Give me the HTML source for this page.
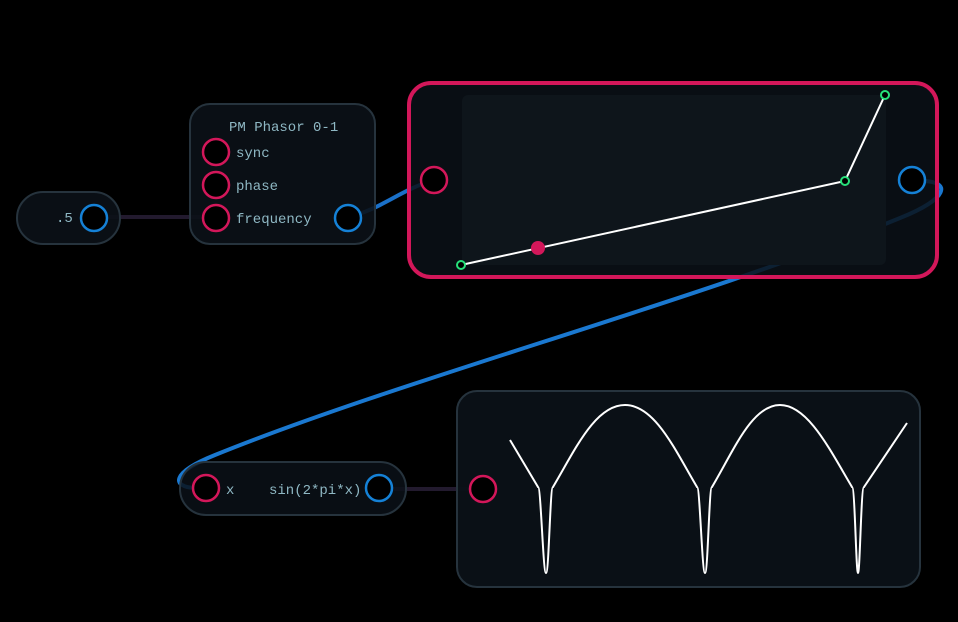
<!DOCTYPE html>
<html><head><meta charset="utf-8"><style>
html,body{margin:0;padding:0;background:#000;width:958px;height:622px;overflow:hidden}
svg{display:block}
text{font-family:"Liberation Mono","DejaVu Sans Mono",monospace;fill:#8fb8c4;font-size:14px}
</style></head><body>
<svg width="958" height="622" viewBox="0 0 958 622">
<path d="M106 217 L204 217" stroke="#221a2e" stroke-width="4" fill="none"/>
<path d="M393 489 L483 489" stroke="#221a2e" stroke-width="4" fill="none"/>
<path d="M348 217 C380 210, 400 190, 434 180" stroke="#1a70c8" stroke-width="4" fill="none"/>
<path d="M924 181 C950 182, 950 198, 900 218 C700 300, 400 380, 215 455 C170 473, 172 487, 195 488" stroke="#1a78d0" stroke-width="4" fill="none"/>
<rect x="17" y="192" width="103" height="52" rx="26" fill="rgba(11,17,23,0.9)" stroke="#26333d" stroke-width="2"/>
<text x="56" y="222">.5</text>
<circle cx="94" cy="218" r="13" fill="#000" stroke="#1581d6" stroke-width="2.5"/>
<rect x="190" y="104" width="185" height="140" rx="20" fill="rgba(11,17,23,0.9)" stroke="#26333d" stroke-width="2"/>
<text x="229" y="131">PM Phasor 0-1</text>
<circle cx="216" cy="152" r="13" fill="#000" stroke="#d3175a" stroke-width="2.5"/>
<circle cx="216" cy="185" r="13" fill="#000" stroke="#d3175a" stroke-width="2.5"/>
<circle cx="216" cy="218" r="13" fill="#000" stroke="#d3175a" stroke-width="2.5"/>
<text x="236" y="157">sync</text>
<text x="236" y="190">phase</text>
<text x="236" y="223">frequency</text>
<circle cx="348" cy="218" r="13" fill="#000" stroke="#1581d6" stroke-width="2.5"/>
<rect x="409" y="83" width="528" height="194" rx="22" fill="rgba(11,17,23,0.85)" stroke="#d3175a" stroke-width="4"/>
<rect x="462" y="95" width="424" height="170" rx="6" fill="#0e151b"/>
<circle cx="434" cy="180" r="13" fill="#000" stroke="#d3175a" stroke-width="2.5"/>
<circle cx="912" cy="180" r="13" fill="#000" stroke="#1581d6" stroke-width="2.5"/>
<polyline points="461,265 845,181 885,95" stroke="#fff" stroke-width="2" fill="none"/>
<circle cx="538" cy="248" r="7" fill="#d3175a"/>
<circle cx="461" cy="265" r="4" fill="#000" stroke="#27e07a" stroke-width="2"/>
<circle cx="845" cy="181" r="4" fill="#000" stroke="#27e07a" stroke-width="2"/>
<circle cx="885" cy="95" r="4" fill="#000" stroke="#27e07a" stroke-width="2"/>
<rect x="180" y="462" width="226" height="53" rx="26" fill="rgba(11,17,23,0.85)" stroke="#26333d" stroke-width="2"/>
<circle cx="206" cy="488" r="13" fill="#000" stroke="#d3175a" stroke-width="2.5"/>
<text x="226" y="494">x</text>
<text x="269" y="494">sin(2*pi*x)</text>
<circle cx="379" cy="488" r="13" fill="#000" stroke="#1581d6" stroke-width="2.5"/>
<rect x="457" y="391" width="463" height="196" rx="20" fill="rgba(11,17,23,0.95)" stroke="#26333d" stroke-width="2"/>
<circle cx="483" cy="489" r="13" fill="#000" stroke="#d3175a" stroke-width="2.5"/>
<path d="M510 440 L538 487 C541 487 543 573 546 573 C549 573 550 487 553 487 C575 450 595 405 625 405 C655 405 675 450 697 487 C700 487 702 573 705 573 C708 573 709 487 712 487 C734 450 752 405 780 405 C808 405 830 450 852 487 C855 487 856 573 858 573 C860 573 861 487 864 487 L907 423" stroke="#fff" stroke-width="2" fill="none"/>
</svg>
</body></html>
